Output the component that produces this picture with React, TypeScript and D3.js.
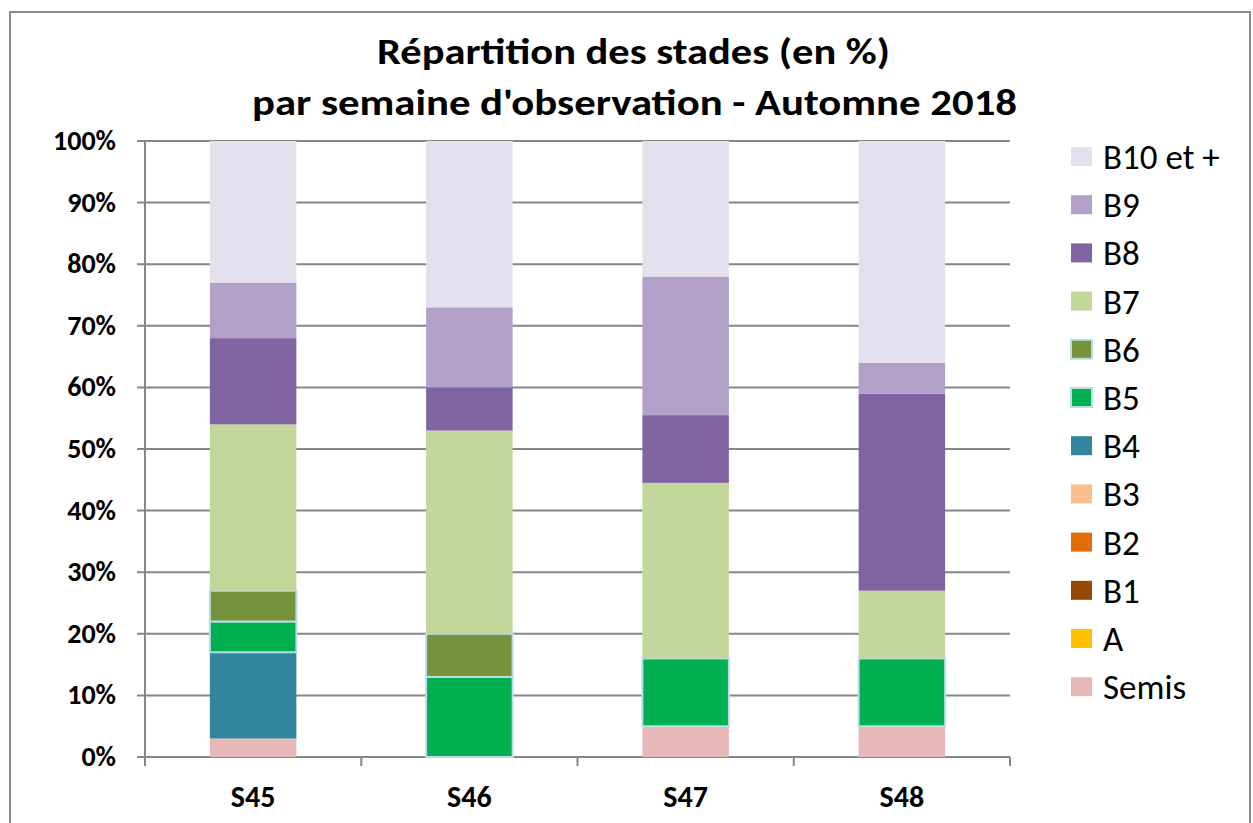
import React from "react";
import * as d3 from "d3";

const weeks = ["S45", "S46", "S47", "S48"];
const stages = ["Semis", "A", "B1", "B2", "B3", "B4", "B5", "B6", "B7", "B8", "B9", "B10 et +"];
const colors = ["#E6B8B7", "#FFC000", "#974706", "#E26B0A", "#FABF8F", "#31859C", "#00B050", "#76933C", "#C4D79B", "#8064A2", "#B1A0C7", "#E4DFEC"];
const semis = [3, 0, 5, 5];
const stA = [0, 0, 0, 0];
const b1 = [0, 0, 0, 0];
const b2 = [0, 0, 0, 0];
const b3 = [0, 0, 0, 0];
const b4 = [14, 0, 0, 0];
const b5 = [5, 13, 11, 11];
const b6 = [5, 7, 0, 0];
const b7 = [27, 33, 28.5, 11];
const b8 = [14, 7, 11, 32];
const b9 = [9, 13, 22.5, 5];
const b10 = [23, 27, 22, 36];
const yTicks = [0, 10, 20, 30, 40, 50, 60, 70, 80, 90, 100];
const titleLines = ["Répartition des stades (en %)", "par semaine d'observation - Automne 2018"];

const series = [semis, stA, b1, b2, b3, b4, b5, b6, b7, b8, b9, b10];

export default function App() {
  const W = 1253, H = 823;
  const left = 145, right = 1010, top = 141, bottom = 757;
  const x = d3.scaleBand().domain(weeks).range([left, right]).paddingInner(0.6).paddingOuter(0.3);
  const y = d3.scaleLinear().domain([0, 100]).range([bottom, top]);
  const rows = weeks.map((w, i) => {
    const r: any = { week: w };
    stages.forEach((s, j) => (r[s] = series[j][i]));
    return r;
  });
  const stacked = d3.stack().keys(stages)(rows);
  const font = "Calibri, Carlito, 'Open Sans', sans-serif";
  const bw = x.bandwidth();
  const step = x.step();
  const ticksX = weeks.map((w) => (x(w) as number) - (step - bw) / 2).concat([right]);
  return (
    <svg width={W} height={H} style={{ position: "absolute", left: 0, top: 0, background: "#fff" }} fontFamily={font}>
      <rect x={10} y={12} width={1240} height={830} fill="#fff" stroke="#8a8a8a" strokeWidth={2} />
      <text x={633.5} y={64} textAnchor="middle" fontSize={37} fontWeight="bold" textLength={513} lengthAdjust="spacingAndGlyphs">{titleLines[0]}</text>
      <text x={634.5} y={115} textAnchor="middle" fontSize={37} fontWeight="bold" textLength={765} lengthAdjust="spacingAndGlyphs">{titleLines[1]}</text>
      {yTicks.map((t) => (
        <g key={t}>
          <line x1={left - 8} x2={right} y1={y(t)} y2={y(t)} stroke="#868686" strokeWidth={2} />
          <text x={116} y={y(t) + 9} textAnchor="end" fontSize={28} fontWeight="bold">{t}%</text>
        </g>
      ))}
      <line x1={left} x2={left} y1={top} y2={bottom} stroke="#868686" strokeWidth={2} />
      {ticksX.map((tx, i) => (
        <line key={i} x1={tx} x2={tx} y1={bottom} y2={bottom + 9} stroke="#868686" strokeWidth={2} />
      ))}
      {stacked.map((layer, j) => (
        <g key={stages[j]}>
          {layer.map((d, i) => {
            const h = y(d[0]) - y(d[1]);
            if (h <= 0) return null;
            const bordered = stages[j] === "B5" || stages[j] === "B6";
            return (
              <rect
                key={i}
                x={x(weeks[i])}
                y={y(d[1])}
                width={bw}
                height={h}
                fill={colors[j]}
                stroke={bordered ? "#B7DEE8" : "none"}
                strokeWidth={bordered ? 2 : 0}
              />
            );
          })}
        </g>
      ))}
      {weeks.map((w) => (
        <text key={w} x={(x(w) as number) + bw / 2} y={807} textAnchor="middle" fontSize={30} fontWeight="bold">{w}</text>
      ))}
      {stages.slice().reverse().map((s, k) => {
        const j = stages.length - 1 - k;
        const cy = 157 + k * 48.2;
        const bordered = s === "B5" || s === "B6";
        return (
          <g key={s}>
            <rect x={1071} y={cy - 10} width={21} height={19} fill={colors[j]} stroke={bordered ? "#B7DEE8" : "none"} strokeWidth={bordered ? 2 : 0} />
            <text x={1103} y={cy + 12} fontSize={35}>{s}</text>
          </g>
        );
      })}
    </svg>
  );
}
